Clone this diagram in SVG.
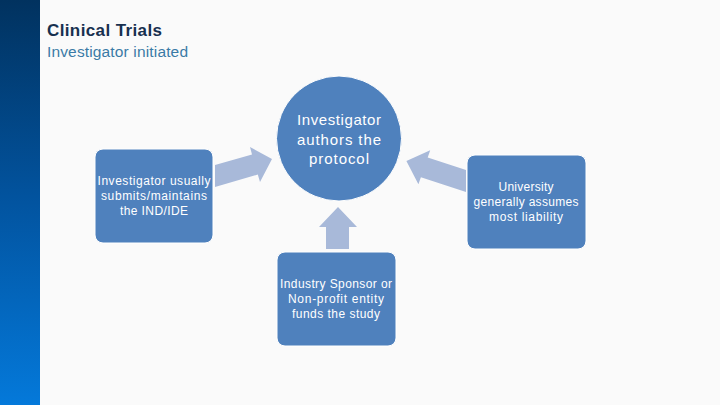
<svg xmlns="http://www.w3.org/2000/svg" width="720" height="405" viewBox="0 0 720 405">
<defs>
<linearGradient id="bar" x1="0" y1="0" x2="0" y2="1">
<stop offset="0" stop-color="#01325f"/>
<stop offset="0.5" stop-color="#0254a0"/>
<stop offset="1" stop-color="#0479da"/>
</linearGradient>
<style>
.node{fill:#4f81bd;stroke:#ffffff;stroke-width:1}
.arrow{fill:#a8b9d9}
.t{font-family:"Liberation Sans",Arial,sans-serif;fill:#ffffff;text-anchor:middle}
.bt{font-size:12px}
.ct{font-size:15px}
</style>
</defs>
<rect width="720" height="405" fill="#fafafa"/>
<rect x="0" y="0" width="40" height="405" fill="url(#bar)"/>
<text x="47" y="36" font-family="Liberation Sans, Arial, sans-serif" font-size="17" font-weight="bold" fill="#17304f" textLength="115">Clinical Trials</text>
<text x="47" y="57" font-family="Liberation Sans, Arial, sans-serif" font-size="15.5" fill="#3a7aa6" textLength="141">Investigator initiated</text>
<g id="connectors">
<polygon class="arrow" points="215,165 252,154.4 250,147 272,159 260,182 257.8,174.6 215,187"/>
<polygon class="arrow" points="466,170 427.7,157.4 430.2,150.3 406.4,161.1 418.4,184.3 420.9,177.2 466,192"/>
<polygon class="arrow" points="326,249 326,227 319,227 338,207 357,227 349,227 349,249"/>
</g>
<g id="protocol">
<circle class="node" cx="339" cy="138.5" r="62.5"/>
<text class="t ct" x="339" y="125" textLength="84">Investigator</text>
<text class="t ct" x="339" y="144.5" textLength="84">authors the</text>
<text class="t ct" x="339" y="164" textLength="60">protocol</text>
</g>
<g id="ind">
<rect class="node" x="95" y="149" width="118" height="94" rx="8"/>
<text class="t bt" x="154" y="185" textLength="113">Investigator usually</text>
<text class="t bt" x="154" y="200" textLength="106">submits/maintains</text>
<text class="t bt" x="154" y="215" textLength="68">the IND/IDE</text>
</g>
<g id="university">
<rect class="node" x="467" y="155" width="119" height="94" rx="8"/>
<text class="t bt" x="526" y="191" textLength="55">University</text>
<text class="t bt" x="526" y="206" textLength="105">generally assumes</text>
<text class="t bt" x="526" y="221" textLength="74">most liability</text>
</g>
<g id="sponsor">
<rect class="node" x="277" y="252" width="119" height="94" rx="8"/>
<text class="t bt" x="336" y="288" textLength="112">Industry Sponsor or</text>
<text class="t bt" x="336" y="303" textLength="96">Non-profit entity</text>
<text class="t bt" x="336" y="318" textLength="88">funds the study</text>
</g>
</svg>
